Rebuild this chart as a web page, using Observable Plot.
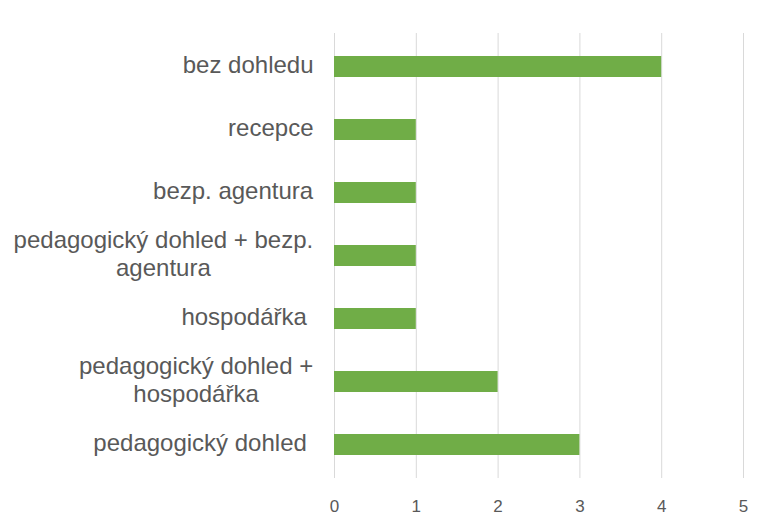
<!DOCTYPE html>
<html>
<head>
<meta charset="utf-8">
<script src="https://cdn.jsdelivr.net/npm/d3@7"></script>
<script src="https://cdn.jsdelivr.net/npm/@observablehq/plot@0.6"></script>
<style>
  html, body { margin: 0; padding: 0; background: #fff; }
</style>
</head>
<body>
<div id="chart"></div>
<script>
const categories = [
  "bez dohledu",
  "recepce",
  "bezp. agentura",
  "pedagogický dohled + bezp.\nagentura",
  "hospodářka ",
  "pedagogický dohled +\nhospodářka",
  "pedagogický dohled "
];
const values = [4, 1, 1, 1, 1, 2, 3];
const xTicks = [0, 1, 2, 3, 4, 5];

const data = categories.map((c, i) => ({category: c, value: values[i]}));

const chart = Plot.plot({
  width: 765,
  height: 519,
  marginLeft: 334,
  marginRight: 22,
  marginTop: 33,
  marginBottom: 41,
  style: {background: "#fff"},
  x: {domain: [0, 5], ticks: xTicks},
  y: {domain: categories, paddingInner: 0.67, paddingOuter: 0.335},
  marks: [
    Plot.gridX(xTicks, {stroke: "#d9d9d9", strokeOpacity: 1, strokeWidth: 1}),
    Plot.barX(data, {x: "value", y: "category", fill: "#70AD47"}),
    Plot.axisX({
      ticks: xTicks, tickSize: 0, tickPadding: 21, label: null,
      tickFormat: d3.format("d"),
      fontSize: 17, fill: "#595959", fontFamily: "Liberation Sans, Arial, sans-serif"
    }),
    Plot.axisY({
      tickSize: 0, tickPadding: 21, label: null, lineHeight: 1.15, dy: -3,
      tickFormat: d => d.replace(/ $/, "\u00a0"),
      fontSize: 24, fill: "#595959", fontFamily: "Liberation Sans, Arial, sans-serif"
    })
  ]
});
document.getElementById("chart").appendChild(chart);

// Center multi-line category labels within their right-aligned block
chart.querySelectorAll('g[aria-label="y-axis tick label"] text').forEach(t => {
  const bb = t.getBBox();
  const w = bb.width;
  t.setAttribute("text-anchor", "middle");
  const old = t.getAttribute("transform") || "";
  t.setAttribute("transform", old + ` translate(${-w / 2},0)`);
});
</script>
</body>
</html>
